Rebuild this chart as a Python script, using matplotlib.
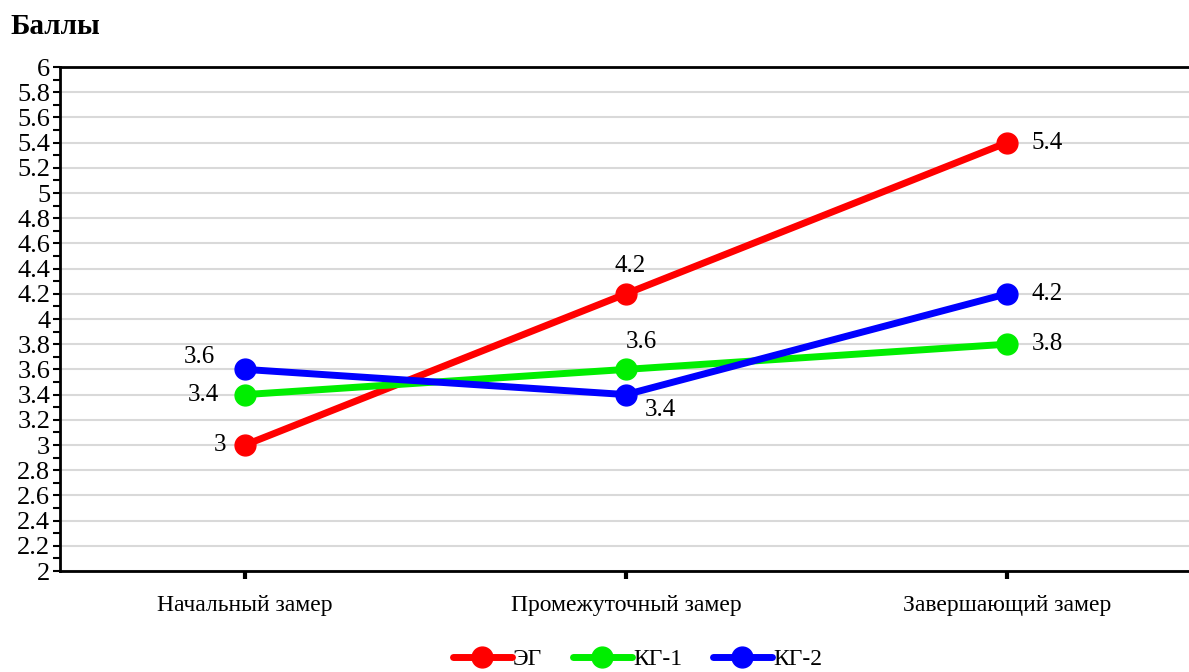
import numpy as np
import matplotlib
matplotlib.use("Agg")
import matplotlib.pyplot as plt
from matplotlib.ticker import MultipleLocator

# ─── ДАННЫЕ ───────────────────────────────────────────────
categories = ["Начальный замер", "Промежуточный замер", "Завершающий замер"]
series_names = ["ЭГ", "КГ-1", "КГ-2"]
eg = [3.0, 4.2, 5.4]
kg1 = [3.4, 3.6, 3.8]
kg2 = [3.6, 3.4, 4.2]
y_label = "Баллы"

colors = ["#ff0000", "#00ee00", "#0000ff"]
# смещения подписей значений (в пунктах)
label_offsets = [
    [(-18, 0), (3, 20), (29, 0)],
    [(-30, 0), (11, 20), (29, 0)],
    [(-33, 9), (25, -11), (29, 0)],
]

plt.rcParams['font.family'] = ['Liberation Serif', 'DejaVu Serif']

fig = plt.figure(figsize=(11.89, 6.72), dpi=100)
ax = fig.add_axes([60 / 1189, 1 - 571 / 672, 1 - 60 / 1189, 504 / 672])

x = np.arange(len(categories))
for vals, name, col, offs in zip([eg, kg1, kg2], series_names, colors, label_offsets):
    ax.plot(x, vals, color=col, linewidth=5, marker='o', markersize=15,
            solid_capstyle='round', label=name, zorder=3)
    for xi, v, (dx, dy) in zip(x, vals, offs):
        ax.annotate(f"{v:g}", (xi, v), xytext=(dx, dy), textcoords='offset points',
                    ha='center', va='center', fontsize=18)

ax.set_xlim(-0.486, 2.478)
ax.set_ylim(2, 6)
ax.set_xticks(x)
ax.set_xticklabels(categories, fontsize=17)
ax.yaxis.set_major_locator(MultipleLocator(0.2))
ax.yaxis.set_minor_locator(MultipleLocator(0.1))
ax.set_yticklabels([f"{v:g}" for v in ax.get_yticks()], fontsize=19)
ax.set_ylim(2, 6)

ax.grid(axis='y', which='major', color='#d9d9d9', linewidth=1.5)
ax.set_axisbelow(True)
for s in ['left', 'bottom', 'top']:
    ax.spines[s].set_linewidth(2)
    ax.spines[s].set_color('black')
ax.spines['right'].set_visible(False)
ax.tick_params(axis='y', which='major', length=5, width=1.5, pad=2)
ax.tick_params(axis='y', which='minor', length=5, width=1.5)
ax.tick_params(axis='x', which='major', length=6, width=3, pad=11)

fig.text(10 / 1189, 1 - 26 / 672, y_label, fontsize=21, fontweight='bold',
         ha='left', va='center')

fig.legend(loc='center', bbox_to_anchor=(0.536, 1 - 659 / 672), ncol=3, frameon=False,
           fontsize=17, handlelength=2.5, handletextpad=0.05, columnspacing=1.3,
           borderaxespad=0)

fig.savefig("out.png", dpi=100)
